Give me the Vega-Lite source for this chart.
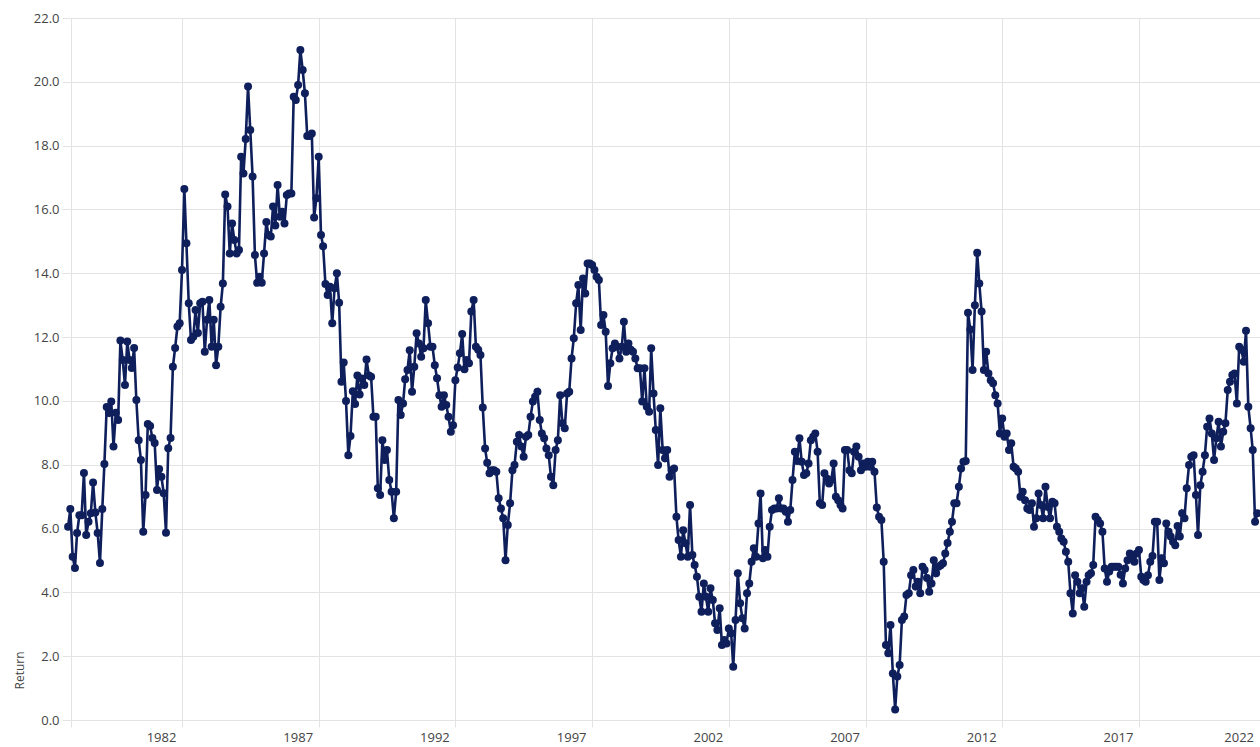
{
"$schema": "https://vega.github.io/schema/vega-lite/v6.json",
"width": 1189,
"height": 702,
"autosize": "none",
"padding": {"left": 71, "top": 18, "right": 0, "bottom": 27},
"background": "white",
"config": {"view": {"stroke": null}, "font": "Open Sans"},
"data": {"values": [
{"d":"1977-11","v":6.06},{"d":"1977-12","v":6.61},
{"d":"1978-01","v":5.12},{"d":"1978-02","v":4.76},{"d":"1978-03","v":5.86},{"d":"1978-04","v":6.42},{"d":"1978-05","v":6.42},{"d":"1978-06","v":7.74},{"d":"1978-07","v":5.80},{"d":"1978-08","v":6.21},{"d":"1978-09","v":6.48},{"d":"1978-10","v":7.44},{"d":"1978-11","v":6.50},{"d":"1978-12","v":5.86},
{"d":"1979-01","v":4.92},{"d":"1979-02","v":6.61},{"d":"1979-03","v":8.02},{"d":"1979-04","v":9.81},{"d":"1979-05","v":9.62},{"d":"1979-06","v":9.98},{"d":"1979-07","v":8.57},{"d":"1979-08","v":9.63},{"d":"1979-09","v":9.40},{"d":"1979-10","v":11.89},{"d":"1979-11","v":11.28},{"d":"1979-12","v":10.50},
{"d":"1980-01","v":11.86},{"d":"1980-02","v":11.28},{"d":"1980-03","v":11.03},{"d":"1980-04","v":11.66},{"d":"1980-05","v":10.03},{"d":"1980-06","v":8.77},{"d":"1980-07","v":8.15},{"d":"1980-08","v":5.90},{"d":"1980-09","v":7.05},{"d":"1980-10","v":9.28},{"d":"1980-11","v":9.21},{"d":"1980-12","v":8.84},
{"d":"1981-01","v":8.68},{"d":"1981-02","v":7.21},{"d":"1981-03","v":7.87},{"d":"1981-04","v":7.62},{"d":"1981-05","v":7.11},{"d":"1981-06","v":5.87},{"d":"1981-07","v":8.52},{"d":"1981-08","v":8.84},{"d":"1981-09","v":11.07},{"d":"1981-10","v":11.66},{"d":"1981-11","v":12.33},{"d":"1981-12","v":12.43},
{"d":"1982-01","v":14.10},{"d":"1982-02","v":16.64},{"d":"1982-03","v":14.94},{"d":"1982-04","v":13.06},{"d":"1982-05","v":11.91},{"d":"1982-06","v":12.01},{"d":"1982-07","v":12.85},{"d":"1982-08","v":12.13},{"d":"1982-09","v":13.06},{"d":"1982-10","v":13.11},{"d":"1982-11","v":11.54},{"d":"1982-12","v":12.54},
{"d":"1983-01","v":13.16},{"d":"1983-02","v":11.70},{"d":"1983-03","v":12.54},{"d":"1983-04","v":11.12},{"d":"1983-05","v":11.70},{"d":"1983-06","v":12.95},{"d":"1983-07","v":13.68},{"d":"1983-08","v":16.47},{"d":"1983-09","v":16.09},{"d":"1983-10","v":14.62},{"d":"1983-11","v":15.56},{"d":"1983-12","v":15.04},
{"d":"1984-01","v":14.62},{"d":"1984-02","v":14.73},{"d":"1984-03","v":17.65},{"d":"1984-04","v":17.13},{"d":"1984-05","v":18.21},{"d":"1984-06","v":19.85},{"d":"1984-07","v":18.49},{"d":"1984-08","v":17.03},{"d":"1984-09","v":14.57},{"d":"1984-10","v":13.70},{"d":"1984-11","v":13.89},{"d":"1984-12","v":13.70},
{"d":"1985-01","v":14.62},{"d":"1985-02","v":15.61},{"d":"1985-03","v":15.20},{"d":"1985-04","v":15.15},{"d":"1985-05","v":16.09},{"d":"1985-06","v":15.50},{"d":"1985-07","v":16.77},{"d":"1985-08","v":15.77},{"d":"1985-09","v":15.93},{"d":"1985-10","v":15.56},{"d":"1985-11","v":16.45},{"d":"1985-12","v":16.50},
{"d":"1986-01","v":16.50},{"d":"1986-02","v":19.53},{"d":"1986-03","v":19.43},{"d":"1986-04","v":19.90},{"d":"1986-05","v":21.00},{"d":"1986-06","v":20.37},{"d":"1986-07","v":19.64},{"d":"1986-08","v":18.30},{"d":"1986-09","v":18.30},{"d":"1986-10","v":18.38},{"d":"1986-11","v":15.75},{"d":"1986-12","v":16.35},
{"d":"1987-01","v":17.65},{"d":"1987-02","v":15.20},{"d":"1987-03","v":14.85},{"d":"1987-04","v":13.66},{"d":"1987-05","v":13.32},{"d":"1987-06","v":13.58},{"d":"1987-07","v":12.43},{"d":"1987-08","v":13.53},{"d":"1987-09","v":14.00},{"d":"1987-10","v":13.08},{"d":"1987-11","v":10.60},{"d":"1987-12","v":11.20},
{"d":"1988-01","v":10.00},{"d":"1988-02","v":8.30},{"d":"1988-03","v":8.90},{"d":"1988-04","v":10.30},{"d":"1988-05","v":9.90},{"d":"1988-06","v":10.80},{"d":"1988-07","v":10.20},{"d":"1988-08","v":10.70},{"d":"1988-09","v":10.50},{"d":"1988-10","v":11.30},{"d":"1988-11","v":10.80},{"d":"1988-12","v":10.76},
{"d":"1989-01","v":9.50},{"d":"1989-02","v":9.50},{"d":"1989-03","v":7.26},{"d":"1989-04","v":7.05},{"d":"1989-05","v":8.77},{"d":"1989-06","v":8.15},{"d":"1989-07","v":8.46},{"d":"1989-08","v":7.52},{"d":"1989-09","v":7.15},{"d":"1989-10","v":6.32},{"d":"1989-11","v":7.15},{"d":"1989-12","v":10.03},
{"d":"1990-01","v":9.56},{"d":"1990-02","v":9.92},{"d":"1990-03","v":10.68},{"d":"1990-04","v":10.97},{"d":"1990-05","v":11.59},{"d":"1990-06","v":10.29},{"d":"1990-07","v":11.07},{"d":"1990-08","v":12.12},{"d":"1990-09","v":11.80},{"d":"1990-10","v":11.38},{"d":"1990-11","v":11.65},{"d":"1990-12","v":13.16},
{"d":"1991-01","v":12.43},{"d":"1991-02","v":11.70},{"d":"1991-03","v":11.70},{"d":"1991-04","v":11.12},{"d":"1991-05","v":10.71},{"d":"1991-06","v":10.18},{"d":"1991-07","v":9.82},{"d":"1991-08","v":10.18},{"d":"1991-09","v":9.87},{"d":"1991-10","v":9.50},{"d":"1991-11","v":9.03},{"d":"1991-12","v":9.24},
{"d":"1992-01","v":10.65},{"d":"1992-02","v":11.05},{"d":"1992-03","v":11.49},{"d":"1992-04","v":12.10},{"d":"1992-05","v":10.99},{"d":"1992-06","v":11.28},{"d":"1992-07","v":11.18},{"d":"1992-08","v":12.80},{"d":"1992-09","v":13.16},{"d":"1992-10","v":11.70},{"d":"1992-11","v":11.60},{"d":"1992-12","v":11.44},
{"d":"1993-01","v":9.79},{"d":"1993-02","v":8.51},{"d":"1993-03","v":8.06},{"d":"1993-04","v":7.73},{"d":"1993-05","v":7.83},{"d":"1993-06","v":7.83},{"d":"1993-07","v":7.78},{"d":"1993-08","v":6.95},{"d":"1993-09","v":6.63},{"d":"1993-10","v":6.32},{"d":"1993-11","v":5.01},{"d":"1993-12","v":6.11},
{"d":"1994-01","v":6.79},{"d":"1994-02","v":7.83},{"d":"1994-03","v":7.99},{"d":"1994-04","v":8.72},{"d":"1994-05","v":8.93},{"d":"1994-06","v":8.57},{"d":"1994-07","v":8.25},{"d":"1994-08","v":8.88},{"d":"1994-09","v":8.93},{"d":"1994-10","v":9.50},{"d":"1994-11","v":9.98},{"d":"1994-12","v":10.13},
{"d":"1995-01","v":10.29},{"d":"1995-02","v":9.40},{"d":"1995-03","v":8.98},{"d":"1995-04","v":8.83},{"d":"1995-05","v":8.51},{"d":"1995-06","v":8.30},{"d":"1995-07","v":7.62},{"d":"1995-08","v":7.36},{"d":"1995-09","v":8.46},{"d":"1995-10","v":8.77},{"d":"1995-11","v":10.18},{"d":"1995-12","v":9.30},
{"d":"1996-01","v":9.14},{"d":"1996-02","v":10.23},{"d":"1996-03","v":10.29},{"d":"1996-04","v":11.33},{"d":"1996-05","v":11.96},{"d":"1996-06","v":13.06},{"d":"1996-07","v":13.63},{"d":"1996-08","v":12.22},{"d":"1996-09","v":13.84},{"d":"1996-10","v":13.37},{"d":"1996-11","v":14.31},{"d":"1996-12","v":14.31},
{"d":"1997-01","v":14.26},{"d":"1997-02","v":14.10},{"d":"1997-03","v":13.89},{"d":"1997-04","v":13.79},{"d":"1997-05","v":12.38},{"d":"1997-06","v":12.69},{"d":"1997-07","v":12.17},{"d":"1997-08","v":10.47},{"d":"1997-09","v":11.18},{"d":"1997-10","v":11.65},{"d":"1997-11","v":11.80},{"d":"1997-12","v":11.70},
{"d":"1998-01","v":11.33},{"d":"1998-02","v":11.70},{"d":"1998-03","v":12.48},{"d":"1998-04","v":11.54},{"d":"1998-05","v":11.80},{"d":"1998-06","v":11.60},{"d":"1998-07","v":11.54},{"d":"1998-08","v":11.33},{"d":"1998-09","v":11.02},{"d":"1998-10","v":11.02},{"d":"1998-11","v":9.98},{"d":"1998-12","v":11.02},
{"d":"1999-01","v":9.82},{"d":"1999-02","v":9.66},{"d":"1999-03","v":11.65},{"d":"1999-04","v":10.23},{"d":"1999-05","v":9.09},{"d":"1999-06","v":7.99},{"d":"1999-07","v":9.77},{"d":"1999-08","v":8.46},{"d":"1999-09","v":8.20},{"d":"1999-10","v":8.46},{"d":"1999-11","v":7.62},{"d":"1999-12","v":7.83},
{"d":"2000-01","v":7.88},{"d":"2000-02","v":6.37},{"d":"2000-03","v":5.64},{"d":"2000-04","v":5.12},{"d":"2000-05","v":5.95},{"d":"2000-06","v":5.54},{"d":"2000-07","v":5.12},{"d":"2000-08","v":6.74},{"d":"2000-09","v":5.17},{"d":"2000-10","v":4.86},{"d":"2000-11","v":4.49},{"d":"2000-12","v":3.86},
{"d":"2001-01","v":3.39},{"d":"2001-02","v":4.28},{"d":"2001-03","v":3.86},{"d":"2001-04","v":3.39},{"d":"2001-05","v":4.13},{"d":"2001-06","v":3.76},{"d":"2001-07","v":3.03},{"d":"2001-08","v":2.82},{"d":"2001-09","v":3.50},{"d":"2001-10","v":2.35},{"d":"2001-11","v":2.51},{"d":"2001-12","v":2.40},
{"d":"2002-01","v":2.87},{"d":"2002-02","v":2.72},{"d":"2002-03","v":1.67},{"d":"2002-04","v":3.13},{"d":"2002-05","v":4.60},{"d":"2002-06","v":3.66},{"d":"2002-07","v":3.19},{"d":"2002-08","v":2.87},{"d":"2002-09","v":3.97},{"d":"2002-10","v":4.28},{"d":"2002-11","v":4.96},{"d":"2002-12","v":5.38},
{"d":"2003-01","v":5.12},{"d":"2003-02","v":6.16},{"d":"2003-03","v":7.10},{"d":"2003-04","v":5.07},{"d":"2003-05","v":5.33},{"d":"2003-06","v":5.12},{"d":"2003-07","v":6.06},{"d":"2003-08","v":6.58},{"d":"2003-09","v":6.63},{"d":"2003-10","v":6.63},{"d":"2003-11","v":6.95},{"d":"2003-12","v":6.63},
{"d":"2004-01","v":6.63},{"d":"2004-02","v":6.53},{"d":"2004-03","v":6.21},{"d":"2004-04","v":6.58},{"d":"2004-05","v":7.52},{"d":"2004-06","v":8.41},{"d":"2004-07","v":8.12},{"d":"2004-08","v":8.83},{"d":"2004-09","v":8.09},{"d":"2004-10","v":7.68},{"d":"2004-11","v":7.73},{"d":"2004-12","v":8.04},
{"d":"2005-01","v":8.77},{"d":"2005-02","v":8.88},{"d":"2005-03","v":8.98},{"d":"2005-04","v":8.41},{"d":"2005-05","v":6.79},{"d":"2005-06","v":6.74},{"d":"2005-07","v":7.73},{"d":"2005-08","v":7.57},{"d":"2005-09","v":7.41},{"d":"2005-10","v":7.52},{"d":"2005-11","v":8.04},{"d":"2005-12","v":7.00},
{"d":"2006-01","v":6.89},{"d":"2006-02","v":6.74},{"d":"2006-03","v":6.63},{"d":"2006-04","v":8.46},{"d":"2006-05","v":8.46},{"d":"2006-06","v":7.83},{"d":"2006-07","v":7.73},{"d":"2006-08","v":8.41},{"d":"2006-09","v":8.57},{"d":"2006-10","v":8.25},{"d":"2006-11","v":7.83},{"d":"2006-12","v":8.04},
{"d":"2007-01","v":7.94},{"d":"2007-02","v":8.09},{"d":"2007-03","v":7.94},{"d":"2007-04","v":8.09},{"d":"2007-05","v":7.78},{"d":"2007-06","v":6.66},{"d":"2007-07","v":6.37},{"d":"2007-08","v":6.27},{"d":"2007-09","v":4.96},{"d":"2007-10","v":2.35},{"d":"2007-11","v":2.09},{"d":"2007-12","v":2.98},
{"d":"2008-01","v":1.46},{"d":"2008-02","v":0.33},{"d":"2008-03","v":1.36},{"d":"2008-04","v":1.72},{"d":"2008-05","v":3.13},{"d":"2008-06","v":3.24},{"d":"2008-07","v":3.92},{"d":"2008-08","v":3.97},{"d":"2008-09","v":4.54},{"d":"2008-10","v":4.70},{"d":"2008-11","v":4.18},{"d":"2008-12","v":4.33},
{"d":"2009-01","v":3.97},{"d":"2009-02","v":4.80},{"d":"2009-03","v":4.70},{"d":"2009-04","v":4.45},{"d":"2009-05","v":4.02},{"d":"2009-06","v":4.28},{"d":"2009-07","v":5.01},{"d":"2009-08","v":4.60},{"d":"2009-09","v":4.80},{"d":"2009-10","v":4.85},{"d":"2009-11","v":4.91},{"d":"2009-12","v":5.22},
{"d":"2010-01","v":5.55},{"d":"2010-02","v":5.90},{"d":"2010-03","v":6.21},{"d":"2010-04","v":6.79},{"d":"2010-05","v":6.79},{"d":"2010-06","v":7.31},{"d":"2010-07","v":7.88},{"d":"2010-08","v":8.09},{"d":"2010-09","v":8.12},{"d":"2010-10","v":12.76},{"d":"2010-11","v":12.24},{"d":"2010-12","v":10.97},
{"d":"2011-01","v":13.00},{"d":"2011-02","v":14.64},{"d":"2011-03","v":13.68},{"d":"2011-04","v":12.80},{"d":"2011-05","v":10.97},{"d":"2011-06","v":11.54},{"d":"2011-07","v":10.86},{"d":"2011-08","v":10.65},{"d":"2011-09","v":10.55},{"d":"2011-10","v":10.18},{"d":"2011-11","v":9.92},{"d":"2011-12","v":8.98},
{"d":"2012-01","v":9.45},{"d":"2012-02","v":8.88},{"d":"2012-03","v":8.98},{"d":"2012-04","v":8.46},{"d":"2012-05","v":8.67},{"d":"2012-06","v":7.94},{"d":"2012-07","v":7.88},{"d":"2012-08","v":7.78},{"d":"2012-09","v":7.00},{"d":"2012-10","v":7.15},{"d":"2012-11","v":6.89},{"d":"2012-12","v":6.63},
{"d":"2013-01","v":6.58},{"d":"2013-02","v":6.79},{"d":"2013-03","v":6.06},{"d":"2013-04","v":6.32},{"d":"2013-05","v":7.10},{"d":"2013-06","v":6.74},{"d":"2013-07","v":6.32},{"d":"2013-08","v":7.31},{"d":"2013-09","v":6.68},{"d":"2013-10","v":6.32},{"d":"2013-11","v":6.84},{"d":"2013-12","v":6.79},
{"d":"2014-01","v":6.06},{"d":"2014-02","v":5.90},{"d":"2014-03","v":5.69},{"d":"2014-04","v":5.59},{"d":"2014-05","v":5.27},{"d":"2014-06","v":4.96},{"d":"2014-07","v":3.97},{"d":"2014-08","v":3.34},{"d":"2014-09","v":4.54},{"d":"2014-10","v":4.33},{"d":"2014-11","v":3.97},{"d":"2014-12","v":4.13},
{"d":"2015-01","v":3.55},{"d":"2015-02","v":4.33},{"d":"2015-03","v":4.54},{"d":"2015-04","v":4.60},{"d":"2015-05","v":4.86},{"d":"2015-06","v":6.37},{"d":"2015-07","v":6.27},{"d":"2015-08","v":6.16},{"d":"2015-09","v":5.90},{"d":"2015-10","v":4.75},{"d":"2015-11","v":4.33},{"d":"2015-12","v":4.65},
{"d":"2016-01","v":4.80},{"d":"2016-02","v":4.80},{"d":"2016-03","v":4.80},{"d":"2016-04","v":4.80},{"d":"2016-05","v":4.55},{"d":"2016-06","v":4.28},{"d":"2016-07","v":4.75},{"d":"2016-08","v":5.01},{"d":"2016-09","v":5.22},{"d":"2016-10","v":5.12},{"d":"2016-11","v":4.96},{"d":"2016-12","v":5.22},
{"d":"2017-01","v":5.33},{"d":"2017-02","v":4.49},{"d":"2017-03","v":4.39},{"d":"2017-04","v":4.33},{"d":"2017-05","v":4.54},{"d":"2017-06","v":4.96},{"d":"2017-07","v":5.14},{"d":"2017-08","v":6.21},{"d":"2017-09","v":6.21},{"d":"2017-10","v":4.39},{"d":"2017-11","v":5.07},{"d":"2017-12","v":4.91},
{"d":"2018-01","v":6.16},{"d":"2018-02","v":5.90},{"d":"2018-03","v":5.75},{"d":"2018-04","v":5.59},{"d":"2018-05","v":5.48},{"d":"2018-06","v":6.08},{"d":"2018-07","v":5.75},{"d":"2018-08","v":6.48},{"d":"2018-09","v":6.32},{"d":"2018-10","v":7.26},{"d":"2018-11","v":7.99},{"d":"2018-12","v":8.25},
{"d":"2019-01","v":8.30},{"d":"2019-02","v":7.05},{"d":"2019-03","v":5.80},{"d":"2019-04","v":7.36},{"d":"2019-05","v":7.78},{"d":"2019-06","v":8.30},{"d":"2019-07","v":9.19},{"d":"2019-08","v":9.45},{"d":"2019-09","v":8.98},{"d":"2019-10","v":8.15},{"d":"2019-11","v":8.83},{"d":"2019-12","v":9.35},
{"d":"2020-01","v":8.57},{"d":"2020-02","v":9.03},{"d":"2020-03","v":9.30},{"d":"2020-04","v":10.34},{"d":"2020-05","v":10.60},{"d":"2020-06","v":10.81},{"d":"2020-07","v":10.86},{"d":"2020-08","v":9.92},{"d":"2020-09","v":11.70},{"d":"2020-10","v":11.60},{"d":"2020-11","v":11.23},{"d":"2020-12","v":12.20},
{"d":"2021-01","v":9.82},{"d":"2021-02","v":9.14},{"d":"2021-03","v":8.46},{"d":"2021-04","v":6.21},{"d":"2021-05","v":6.48}
]},
"encoding": {
  "x": {
    "field": "d", "type": "temporal",
    "scale": {"domain": [{"year": 1977, "month": 12, "date": 10, "utc": true}, {"year": 2021, "month": 6, "date": 6, "utc": true}]},
    "axis": {
      "values": [
        {"year": 1977, "month": 12, "date": 10, "utc": true},
        {"year": 1982, "month": 1, "date": 1, "utc": true},
        {"year": 1987, "month": 1, "date": 1, "utc": true},
        {"year": 1992, "month": 1, "date": 1, "utc": true},
        {"year": 1997, "month": 1, "date": 1, "utc": true},
        {"year": 2002, "month": 1, "date": 1, "utc": true},
        {"year": 2007, "month": 1, "date": 1, "utc": true},
        {"year": 2012, "month": 1, "date": 1, "utc": true},
        {"year": 2017, "month": 1, "date": 1, "utc": true},
        {"year": 2021, "month": 6, "date": 1, "utc": true}
      ],
      "labelExpr": "datum.value < 315532800000 ? '' : (datum.value > 1600000000000 ? '2022' : utcFormat(datum.value, '%Y'))",
      "labelOffset": -21,
      "labelFont": "Open Sans",
      "labelFontSize": 13,
      "labelColor": "#444444",
      "labelPadding": 4,
      "labelFlush": false,
      "labelOverlap": false,
      "tickSize": 7,
      "tickColor": "#e3e3e3",
      "tickOpacity": {"condition": {"test": "datum.value > 1600000000000", "value": 0}, "value": 1},
      "grid": true,
      "gridColor": "#e3e3e3",
      "gridOpacity": {"condition": {"test": "datum.value > 1600000000000", "value": 0}, "value": 1},
      "domain": false,
      "title": null
    }
  },
  "y": {
    "field": "v", "type": "quantitative",
    "scale": {"domain": [0, 22], "nice": false, "zero": true},
    "axis": {
      "values": [0, 2, 4, 6, 8, 10, 12, 14, 16, 18, 20, 22],
      "format": ".1f",
      "labelFont": "Open Sans",
      "labelFontSize": 13,
      "labelColor": "#444444",
      "labelPadding": 3,
      "tickSize": 9,
      "tickColor": "#e3e3e3",
      "grid": true,
      "gridColor": "#e3e3e3",
      "domain": false,
      "title": "Return",
      "titleFont": "Open Sans",
      "titleFontSize": 12,
      "titleFontWeight": "normal",
      "titleColor": "#444444",
      "titleAngle": -90,
      "titleAlign": "left",
      "titleBaseline": "middle",
      "titleX": -52,
      "titleY": 671
    }
  }
},
"layer": [
  {"mark": {"type": "line", "color": "#0e1f5c", "strokeWidth": 2.6, "clip": false}},
  {"mark": {"type": "point", "filled": true, "color": "#0e1f5c", "size": 64, "opacity": 1, "clip": false}}
]
}
